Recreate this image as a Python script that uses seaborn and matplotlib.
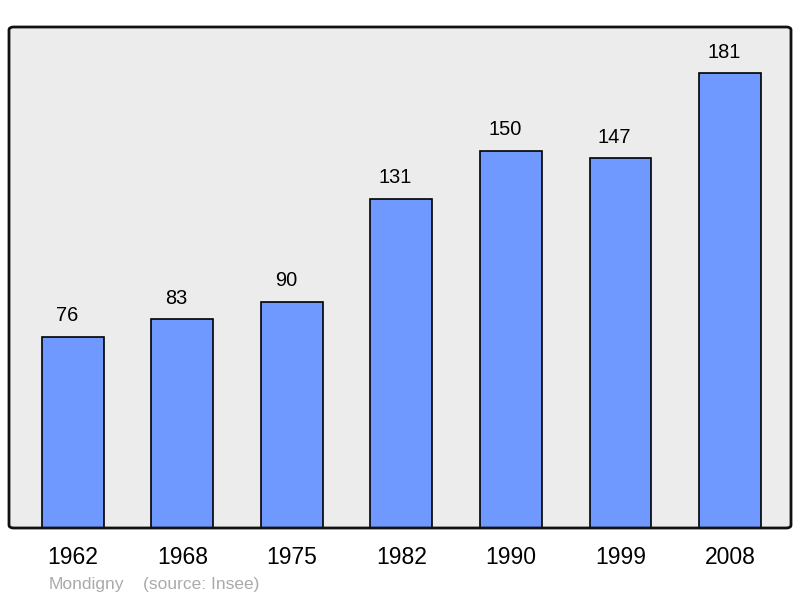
import matplotlib
matplotlib.use("Agg")
import matplotlib.pyplot as plt
import seaborn as sns
import pandas as pd
from matplotlib.patches import FancyBboxPatch

years = ["1962", "1968", "1975", "1982", "1990", "1999", "2008"]
population = [76, 83, 90, 131, 150, 147, 181]
commune = "Mondigny"
source = "(source: Insee)"

df = pd.DataFrame({"annee": years, "pop": population})

sns.set_style("white")
plt.rcParams["font.family"] = ["Liberation Sans", "DejaVu Sans"]

fig = plt.figure(figsize=(8, 5.98), dpi=100)
ax = fig.add_axes([9 / 800, 1 - 528 / 598, 782 / 800, 501 / 598])
ax.set_facecolor("#ececec")

sns.barplot(data=df, x="annee", y="pop", ax=ax, color="#7099ff", saturation=1,
            width=0.566, edgecolor="black", linewidth=1.2, zorder=3)

ax.set_xlim(-0.584, 6.557)
ax.set_ylim(0, 199.3)
ax.set_xlabel("")
ax.set_ylabel("")
ax.set_yticks([])
ax.tick_params(axis="x", length=0, labelsize=16.5, pad=13, colors="black")

# cadre arrondi a la place des spines
for sp in ax.spines.values():
    sp.set_visible(False)
frame = FancyBboxPatch((0, 0), 1, 1, boxstyle="round,pad=0,rounding_size=0.006",
                       transform=ax.transAxes, facecolor="none", edgecolor="#111111",
                       linewidth=2, clip_on=False, zorder=5)
ax.add_patch(frame)

for i, v in enumerate(population):
    ax.annotate(str(v), (i, v), xytext=(-6, 21), textcoords="offset pixels",
                ha="center", va="center", fontsize=14.4, color="black")

fig.text(49 / 800, 1 - 584 / 598, commune, fontsize=12.5, color="#aaaaaa", va="center", ha="left")
fig.text(143 / 800, 1 - 584 / 598, source, fontsize=12.5, color="#aaaaaa", va="center", ha="left")

fig.savefig("out.png", dpi=100)
